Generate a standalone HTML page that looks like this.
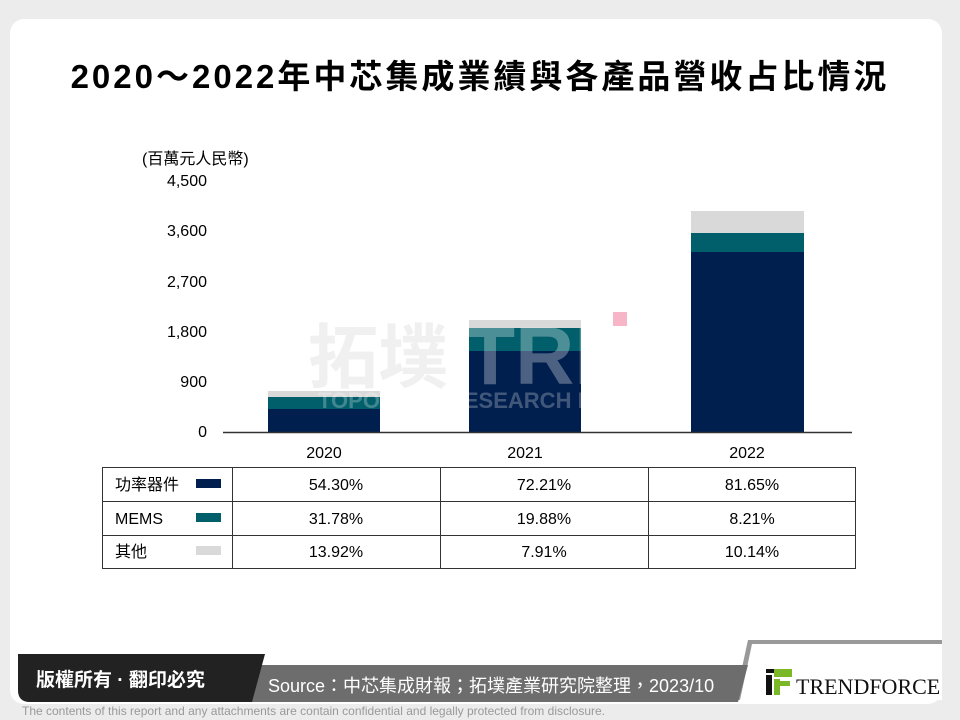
<!DOCTYPE html>
<html><head><meta charset="utf-8"><style>
body{margin:0;width:960px;height:720px;background:#ececec;position:relative;overflow:hidden;font-family:"Liberation Sans","Noto Sans CJK TC",sans-serif}
.card{position:absolute;left:10px;top:19px;width:932px;height:685px;background:#fff;border-radius:14px}
.t{position:absolute;white-space:nowrap}
</style></head><body>
<div class="card"></div>
<div class="t" style="left:0;width:960px;top:50px;text-align:center;font-size:33px;letter-spacing:3px;font-weight:bold;color:#000;font-family:'Liberation Sans','Noto Sans CJK TC',sans-serif">2020～2022年中芯集成業績與各產品營收占比情況</div>
<svg style="position:absolute;left:0;top:0" width="960" height="720">
<g font-family="Liberation Sans, Noto Sans CJK TC, sans-serif" font-size="16" fill="#000">
<text x="142" y="164">(百萬元人民幣)</text>
<text x="207" y="186" text-anchor="end">4,500</text>
<text x="207" y="236" text-anchor="end">3,600</text>
<text x="207" y="287" text-anchor="end">2,700</text>
<text x="207" y="337" text-anchor="end">1,800</text>
<text x="207" y="387" text-anchor="end">900</text>
<text x="207" y="437" text-anchor="end">0</text>
</g>
<!-- bars -->
<rect x="268" y="391" width="112" height="6" fill="#d9d9d9"/>
<rect x="268" y="397" width="112" height="12" fill="#005f6b"/>
<rect x="268" y="409" width="112" height="23" fill="#001f4e"/>
<rect x="469" y="320" width="112" height="8" fill="#d9d9d9"/>
<rect x="469" y="328" width="112" height="23" fill="#005f6b"/>
<rect x="469" y="351" width="112" height="81" fill="#001f4e"/>
<rect x="691" y="211" width="113" height="22" fill="#d9d9d9"/>
<rect x="691" y="233" width="113" height="19" fill="#005f6b"/>
<rect x="691" y="252" width="113" height="180" fill="#001f4e"/>
<!-- watermark -->
<g font-family="Liberation Sans, Noto Sans CJK TC, sans-serif" font-weight="bold" fill="#fff" fill-opacity="0.3">
<text x="308" y="382" font-size="70" fill="#e6e6e6" fill-opacity="0.6">拓墣</text>
<text x="465" y="384" font-size="82">TRI</text>
<text x="318" y="408" font-size="22" fill-opacity="0.25">TOPOLOGY RESEARCH INSTITUTE</text>
</g>
<rect x="613" y="312" width="14" height="14" fill="#f7b6c8"/>
<line x1="223" y1="432.5" x2="852" y2="432.5" stroke="#333" stroke-width="1.5"/>
<g font-family="Liberation Sans, sans-serif" font-size="16" text-anchor="middle">
<text x="324" y="458">2020</text><text x="525" y="458">2021</text><text x="747" y="458">2022</text>
</g>
<!-- table -->
<g stroke="#333" stroke-width="1" fill="none">
<rect x="102.5" y="467.5" width="753" height="101"/>
<line x1="102" y1="501.5" x2="856" y2="501.5"/>
<line x1="102" y1="535.5" x2="856" y2="535.5"/>
<line x1="232.5" y1="467" x2="232.5" y2="569"/>
<line x1="440.5" y1="467" x2="440.5" y2="569"/>
<line x1="648.5" y1="467" x2="648.5" y2="569"/>
</g>
<g font-family="Liberation Sans, Noto Sans CJK TC, sans-serif" font-size="16">
<text x="115" y="490">功率器件</text>
<text x="115" y="524">MEMS</text>
<text x="115" y="557">其他</text>
<g text-anchor="middle">
<text x="336" y="490">54.30%</text><text x="544" y="490">72.21%</text><text x="752" y="490">81.65%</text>
<text x="336" y="524">31.78%</text><text x="544" y="524">19.88%</text><text x="752" y="524">8.21%</text>
<text x="336" y="557">13.92%</text><text x="544" y="557">7.91%</text><text x="752" y="557">10.14%</text>
</g></g>
<rect x="196" y="479" width="25" height="9" fill="#001f4e"/>
<rect x="196" y="513" width="25" height="9" fill="#005f6b"/>
<rect x="196" y="546" width="25" height="9" fill="#d9d9d9"/>
<!-- footer -->
<polygon points="748,640 942,640 942,700 735,700" fill="#999"/>
<polygon points="752,644 942,644 942,700 740,700" fill="#fff"/>
<polygon points="260,665 748,665 738,702 250,702" fill="#6d6d6d"/>
<path d="M18,654 L265,654 L252,702 L30,702 Q18,702 18,690 Z" fill="#222"/>
<text x="36" y="686" font-size="19" fill="#fff" font-weight="bold" font-family="Liberation Sans, Noto Sans CJK TC, sans-serif">版權所有 · 翻印必究</text>
<text x="268" y="692" font-size="18" fill="#fff" font-family="Liberation Sans, Noto Sans CJK TC, sans-serif">Source：中芯集成財報；拓墣產業研究院整理，2023/10</text>
<rect x="766" y="669" width="12" height="4" fill="#111"/>
<rect x="766" y="675" width="6" height="20" fill="#111"/>
<rect x="774" y="669" width="18" height="8" fill="#7ab828"/>
<rect x="774" y="679" width="6" height="16" fill="#7ab828"/>
<rect x="780" y="681" width="10" height="5" fill="#7ab828"/>
<text x="796" y="694" font-size="22" font-family="Liberation Serif, serif" fill="#111">TRENDFORCE</text>
<text x="22" y="715" font-size="12" fill="#999" font-family="Liberation Sans, sans-serif">The contents of this report and any attachments are contain confidential and legally protected from disclosure.</text>
</svg>
</body></html>
